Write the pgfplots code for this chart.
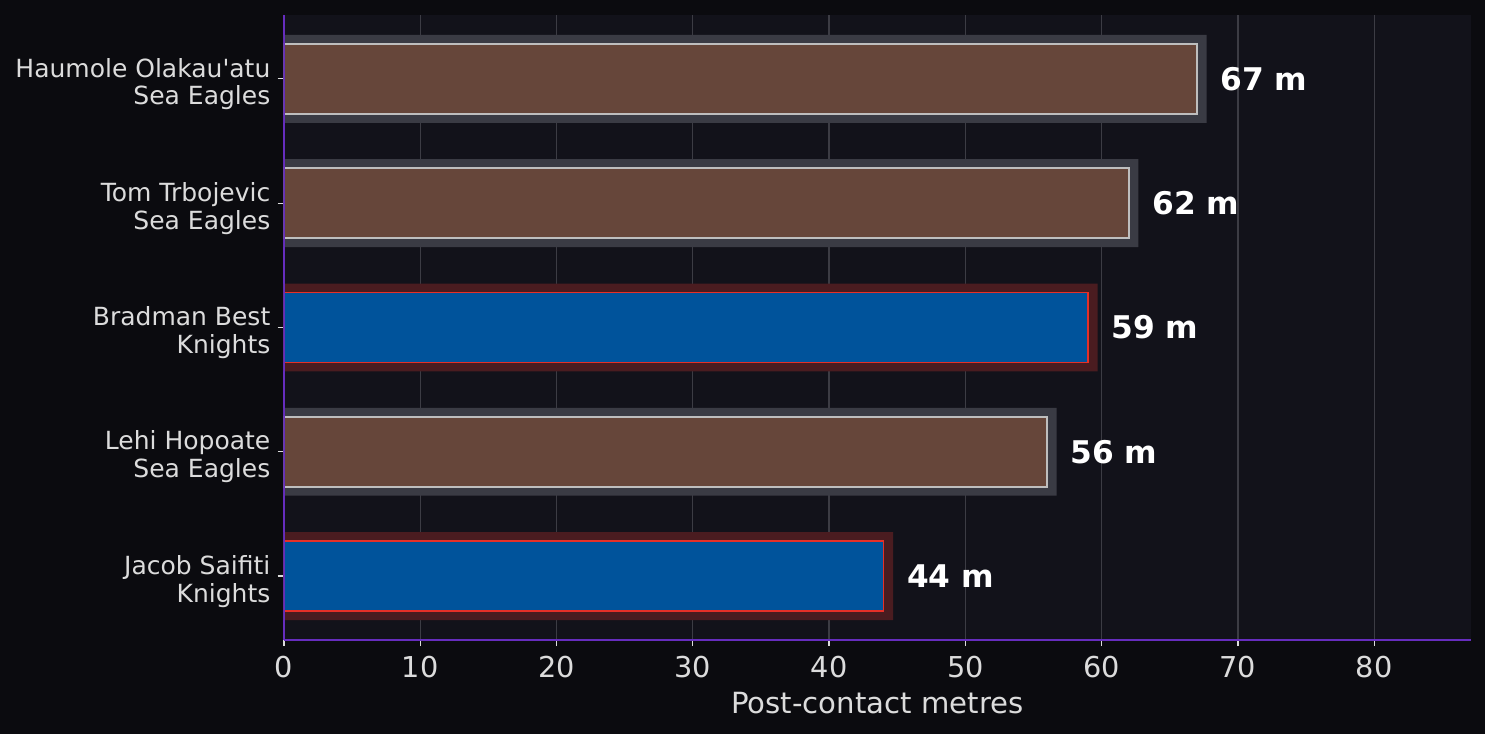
\documentclass[border=0pt]{standalone}
\usepackage{pgfplots}
\pgfplotsset{compat=1.18}
\usepackage{fontspec}
\setmainfont{DejaVu Sans}
\definecolor{figbg}{RGB}{11,11,15}
\definecolor{axbg}{RGB}{18,18,26}
\definecolor{gridc}{RGB}{60,60,68}
\definecolor{spinec}{RGB}{102,45,190}
\definecolor{tickc}{RGB}{220,220,220}
\definecolor{glowgray}{RGB}{58,59,68}
\definecolor{glowred}{RGB}{74,28,32}
\definecolor{brownbar}{RGB}{102,70,58}
\definecolor{browned}{RGB}{190,190,190}
\definecolor{bluebar}{RGB}{0,83,155}
\definecolor{blueed}{RGB}{230,48,40}
\begin{document}
\begin{tikzpicture}
\fill[figbg] (-136.3pt,-45.1pt) rectangle (576.5pt,307.2pt);
\useasboundingbox (-136.3pt,-45.1pt) rectangle (576.5pt,307.2pt);
\begin{axis}[
    at={(0,0)}, anchor=south west,
    scale only axis,
    width=569.8pt, height=300pt,
    xmin=0, xmax=87.1,
    ymin=-0.514, ymax=4.514,
    axis background/.style={fill=axbg},
    axis x line*=bottom, axis y line*=left,
    axis line style={spinec, line width=1pt},
    xtick={0,10,...,80},
    ytick={0,1,2,3,4},
    yticklabels={{Jacob Saifiti\\Knights},{Lehi Hopoate\\Sea Eagles},{Bradman Best\\Knights},{Tom Trbojevic\\Sea Eagles},{Haumole Olakau\textquotesingle atu\\Sea Eagles}},
    yticklabel style={align=right, font=\fontsize{12}{13.4}\selectfont, text=tickc, yshift=-2.5pt},
    xticklabel style={font=\fontsize{13.8}{16}\selectfont, text=tickc, yshift=-1pt},
    /pgf/number format/assume math mode=true,
    tick align=outside,
    major tick length=3pt,
    tick style={tickc, line width=0.6pt},
    xmajorgrids,
    grid style={gridc, line width=0.6pt},
    xlabel={Post-contact metres},
    xlabel style={font=\fontsize{14}{16}\selectfont, text=tickc, yshift=-0.2pt},
]
% glow behind bars
\addplot[xbar, bar shift=0pt, bar width=42.2pt, fill=glowgray, draw=none]
    coordinates {(67.7,4) (62.7,3) (56.7,1)};
\addplot[xbar, bar shift=0pt, bar width=42.2pt, fill=glowred, draw=none]
    coordinates {(59.7,2) (44.7,0)};
% Sea Eagles
\addplot[xbar, bar shift=0pt, bar width=33.6pt, fill=brownbar, draw=browned, line width=0.8pt,
    point meta=x,
    nodes near coords={\pgfmathprintnumber{\pgfplotspointmeta} m},
    nodes near coords style={anchor=west, xshift=7.5pt, text=white, font=\bfseries\fontsize{15}{17}\selectfont}]
    coordinates {(67,4) (62,3) (56,1)};
% Knights
\addplot[xbar, bar shift=0pt, bar width=33.6pt, fill=bluebar, draw=blueed, line width=0.8pt,
    point meta=x,
    nodes near coords={\pgfmathprintnumber{\pgfplotspointmeta} m},
    nodes near coords style={anchor=west, xshift=7.5pt, text=white, font=\bfseries\fontsize{15}{17}\selectfont}]
    coordinates {(59,2) (44,0)};
% spines over the bars
\draw[spinec, line width=1pt] (rel axis cs:0,1) -- (rel axis cs:0,0) -- (rel axis cs:1,0);
\end{axis}
\end{tikzpicture}
\end{document}
